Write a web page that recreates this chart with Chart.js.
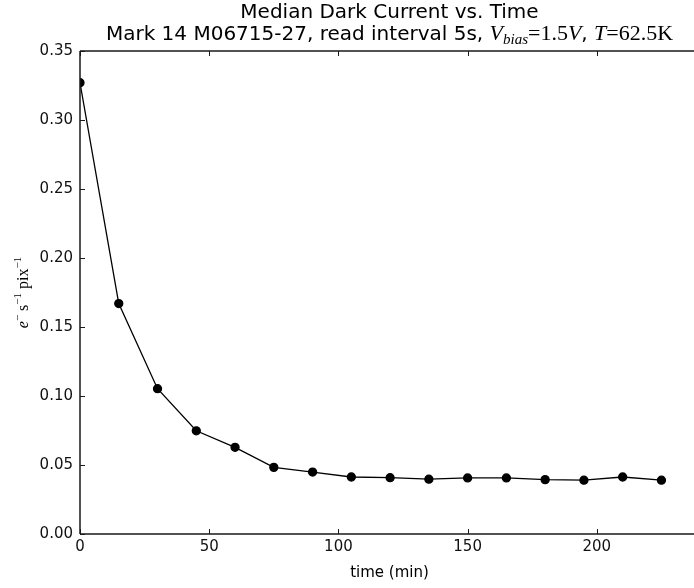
<!DOCTYPE html>
<html>
<head>
<meta charset="utf-8">
<script src="https://cdn.jsdelivr.net/npm/chart.js@4"></script>
<style>
html,body{margin:0;padding:0;background:#fff;}
#wrap{width:694px;height:588px;position:relative;}
</style>
</head>
<body>
<div id="wrap"><canvas id="c"></canvas></div>
<script>
// ---- data ----
const timeMin = [0, 15, 30, 45, 60, 75, 90, 105, 120, 135, 150, 165, 180, 195, 210, 225];
const darkCurrent = [0.327, 0.167, 0.1053, 0.0748, 0.0628, 0.0483, 0.0449, 0.0413, 0.0408, 0.0397, 0.0406, 0.0406, 0.0394, 0.0390, 0.0413, 0.0390];
const xTickValues = [0, 50, 100, 150, 200];
const yTickValues = [0.00, 0.05, 0.10, 0.15, 0.20, 0.25, 0.30, 0.35];
const titleLine1 = "Median Dark Current vs. Time";
const titleLine2Text = "Mark 14 M06715-27, read interval 5s, ";
const xAxisLabel = "time (min)";

const SANS = "'DejaVu Sans', sans-serif";
const SERIF = "'Liberation Serif', 'DejaVu Serif', serif";
const FULL_AXIS_CENTER = 389.5; // axes centre of the (cropped) original plot

const framePlugin = {
  id: 'frame',
  afterDraw(chart) {
    const ctx = chart.ctx, a = chart.chartArea;
    const xs = chart.scales.x, ys = chart.scales.y;
    ctx.save();
    ctx.strokeStyle = '#1a1a1a';
    ctx.lineWidth = 1.5;
    ctx.beginPath();
    ctx.moveTo(a.left, a.top); ctx.lineTo(a.left, a.bottom);
    ctx.moveTo(a.left, a.bottom); ctx.lineTo(a.right, a.bottom);
    ctx.moveTo(a.left, a.top); ctx.lineTo(a.right, a.top);
    ctx.stroke();
    ctx.lineWidth = 1;
    ctx.beginPath();
    xs.ticks.forEach(t => {
      const px = Math.round(xs.getPixelForValue(t.value)) + 0.5;
      ctx.moveTo(px, a.bottom); ctx.lineTo(px, a.bottom - 5);
      ctx.moveTo(px, a.top); ctx.lineTo(px, a.top + 5);
    });
    ys.ticks.forEach(t => {
      const py = Math.round(ys.getPixelForValue(t.value)) + 0.5;
      ctx.moveTo(a.left, py); ctx.lineTo(a.left + 5, py);
    });
    ctx.stroke();

    // titles
    const cx = FULL_AXIS_CENTER;
    ctx.fillStyle = '#000';
    ctx.textBaseline = 'alphabetic';
    ctx.textAlign = 'center';
    ctx.font = "20px " + SANS;
    ctx.fillText(titleLine1, cx, 18);

    // line 2 with math
    const parts = [
      {t: titleLine2Text, f: "20px " + SANS, dy: 0},
      {t: "V", f: "italic 22px " + SERIF, dy: 0},
      {t: "bias", f: "italic 15px " + SERIF, dy: 4},
      {t: "=1.5", f: "22px " + SERIF, dy: 0},
      {t: "V", f: "italic 22px " + SERIF, dy: 0},
      {t: ", ", f: "20px " + SANS, dy: 0},
      {t: "T", f: "italic 22px " + SERIF, dy: 0},
      {t: "=62.5K", f: "22px " + SERIF, dy: 0}
    ];
    ctx.textAlign = 'left';
    let total = 0;
    parts.forEach(p => { ctx.font = p.f; p.w = ctx.measureText(p.t).width; total += p.w; });
    let x0 = cx - total / 2;
    parts.forEach(p => { ctx.font = p.f; ctx.fillText(p.t, x0, 40 + p.dy); x0 += p.w; });

    // x axis label
    ctx.textAlign = 'center';
    ctx.font = "15px " + SANS;
    ctx.fillText(xAxisLabel, cx, 577);

    // y axis label (rotated math)
    const yparts = [
      {t: "e", f: "italic 16px " + SERIF, dy: 0},
      {t: "\u2212", f: "11px " + SERIF, dy: -7},
      {t: " s", f: "16px " + SERIF, dy: 0},
      {t: "\u22121", f: "11px " + SERIF, dy: -7},
      {t: " pix", f: "16px " + SERIF, dy: 0},
      {t: "\u22121", f: "11px " + SERIF, dy: -7}
    ];
    let ytot = 0;
    yparts.forEach(p => { ctx.font = p.f; p.w = ctx.measureText(p.t).width; ytot += p.w; });
    ctx.translate(28, (a.top + a.bottom) / 2);
    ctx.rotate(-Math.PI / 2);
    ctx.textAlign = 'left';
    let yx = -ytot / 2;
    yparts.forEach(p => { ctx.font = p.f; ctx.fillText(p.t, yx, p.dy); yx += p.w; });
    ctx.restore();
  }
};

new Chart(document.getElementById('c'), {
  type: 'scatter',
  data: {
    datasets: [{
      data: timeMin.map((t, i) => ({x: t, y: darkCurrent[i]})),
      showLine: true,
      borderColor: '#000',
      borderWidth: 1.3,
      backgroundColor: '#000',
      pointBackgroundColor: '#000',
      pointBorderColor: '#000',
      pointRadius: 4,
      pointHoverRadius: 4,
      clip: 0
    }]
  },
  options: {
    responsive: true,
    maintainAspectRatio: false,
    animation: false,
    events: [],
    layout: {autoPadding: false, padding: {top: 51, right: 0, left: 0, bottom: 0}},
    plugins: {legend: {display: false}, tooltip: {enabled: false}, title: {display: false}},
    scales: {
      x: {
        type: 'linear', min: 0, max: 237.6,
        afterBuildTicks: s => { s.ticks = xTickValues.map(v => ({value: v})); },
        afterFit: s => { s.height = 54; s.paddingRight = 0; s.paddingLeft = 0; },
        grid: {display: false, drawTicks: false, tickLength: 0},
        border: {display: false},
        ticks: {font: {family: SANS, size: 15}, color: '#111', padding: 4, maxRotation: 0, autoSkip: false, includeBounds: false,
                callback: v => String(v)}
      },
      y: {
        type: 'linear', min: 0, max: 0.35,
        afterBuildTicks: s => { s.ticks = yTickValues.map(v => ({value: v})); },
        afterFit: s => { s.width = 80; s.paddingTop = 0; s.paddingBottom = 0; },
        grid: {display: false, drawTicks: false, tickLength: 0},
        border: {display: false},
        ticks: {font: {family: SANS, size: 15}, color: '#111', padding: 7, autoSkip: false,
                callback: v => Number(v).toFixed(2)}
      }
    }
  },
  plugins: [framePlugin]
});
</script>
</body>
</html>
